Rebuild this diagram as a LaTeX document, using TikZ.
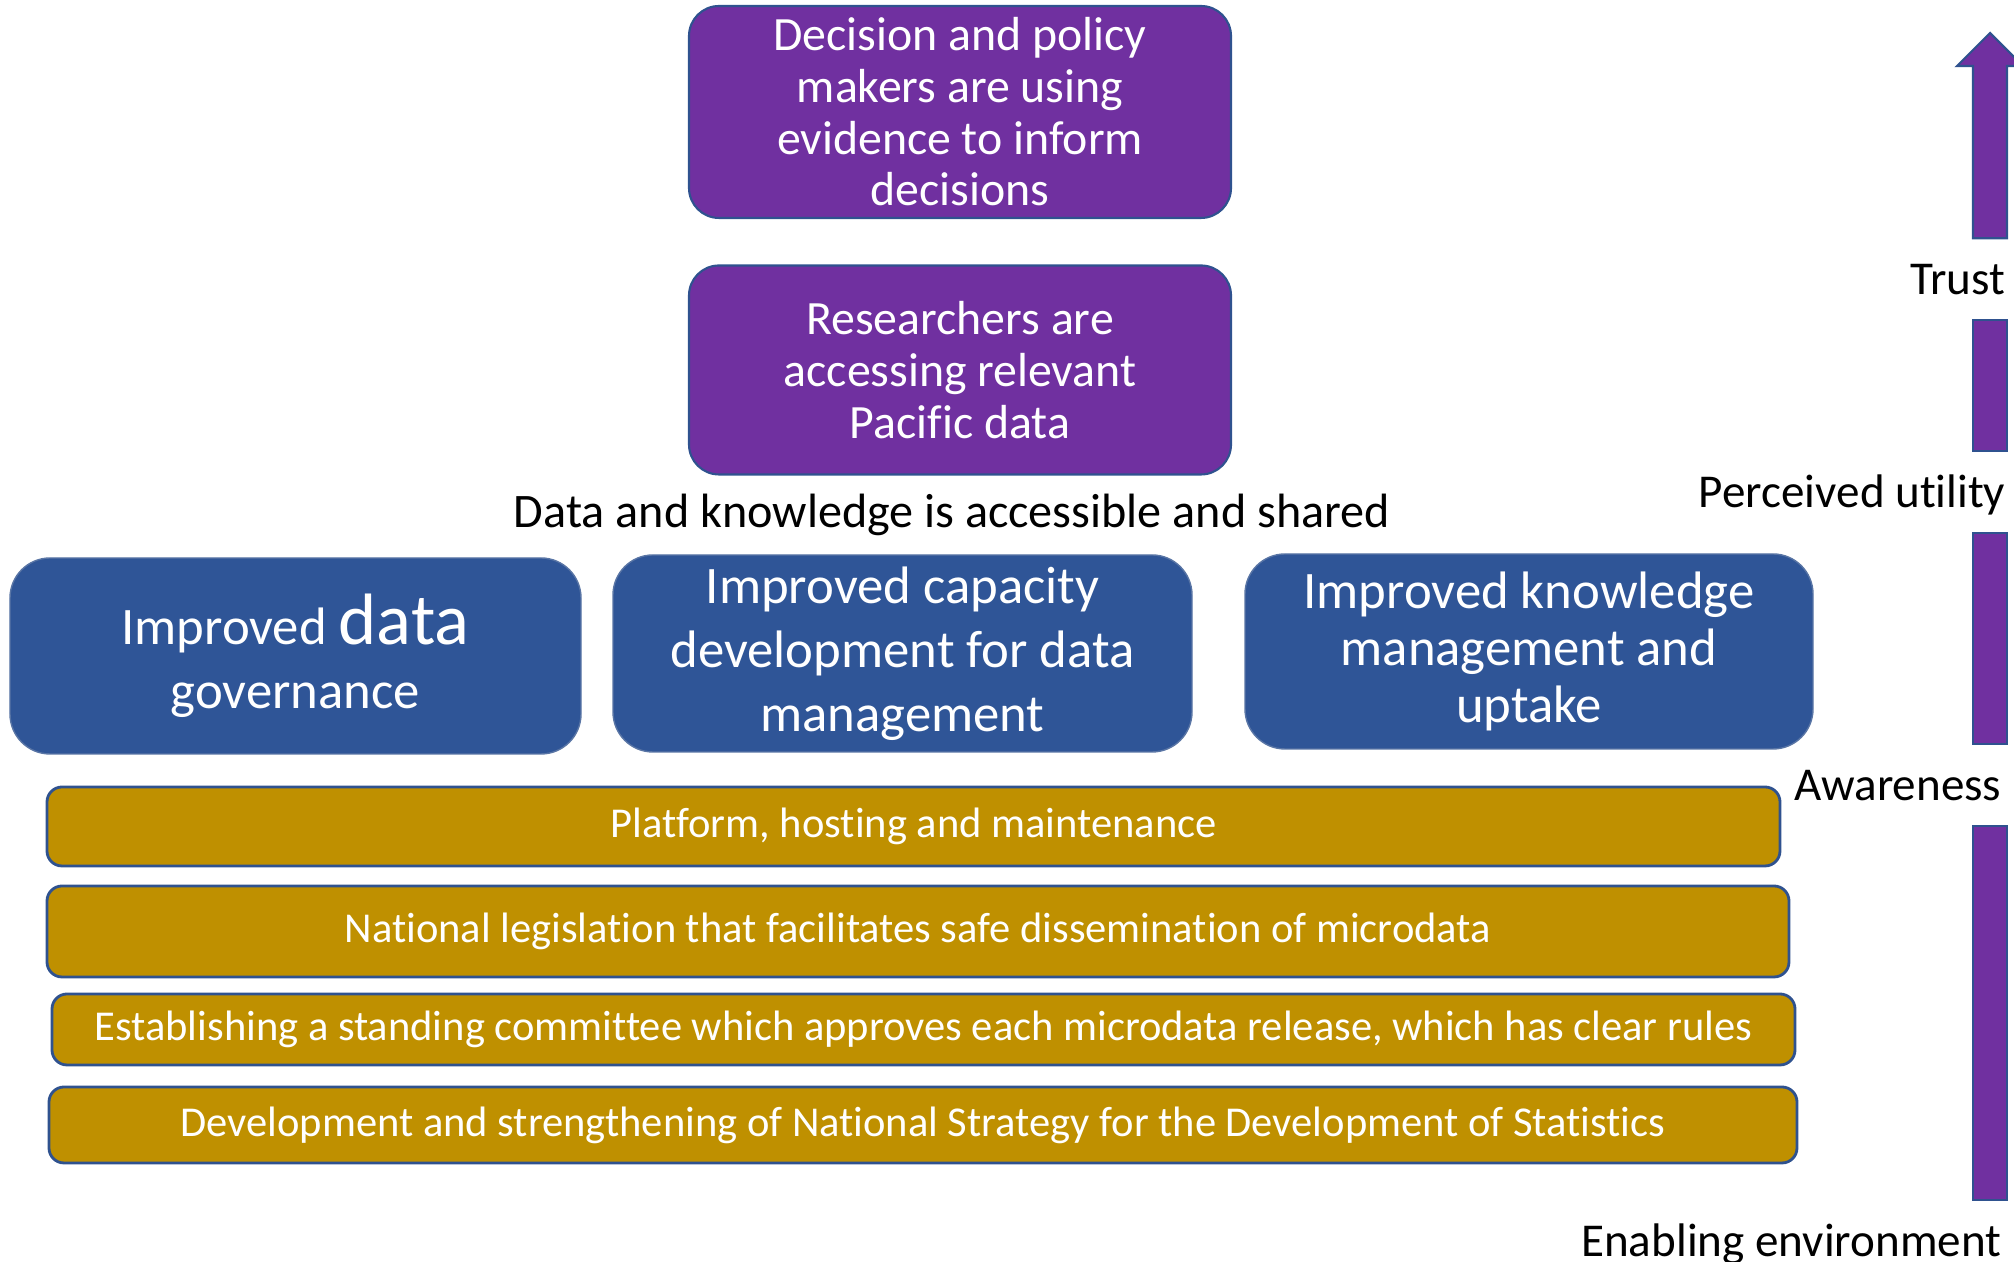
\documentclass[tikz,border=0pt]{standalone}
\usepackage{fontspec}
\setmainfont{Carlito}[Ligatures={NoCommon,NoRequired,NoContextual}]
\usetikzlibrary{positioning}
\definecolor{goalpurple}{HTML}{7030A0}
\definecolor{outblue}{HTML}{2F5597}
\definecolor{basegold}{HTML}{BF9000}
\definecolor{edgeblue}{HTML}{2F528F}

\begin{document}
\begin{tikzpicture}[
		goal/.style={rectangle, rounded corners=0.3cm, draw=edgeblue, line width=0.6pt, fill=goalpurple, text=white, align=center, minimum width=5.42cm, minimum height=2.1cm, font=\fontsize{13.6}{14.7}\selectfont},
		outcome/.style={rectangle, rounded corners=0.4cm, draw=edgeblue!80, line width=0.4pt, fill=outblue, text=white, align=center, minimum height=1.95cm, font=\fontsize{15}{18.2}\selectfont},
		enabler/.style={rectangle, rounded corners=0.15cm, draw=edgeblue, line width=0.8pt, fill=basegold, text=white, align=center, font=\fontsize{12.1}{14}\selectfont},
		stage/.style={anchor=east, inner sep=0pt, minimum height=0.8cm, text height=0.37cm, text depth=0.06cm, font=\fontsize{13.4}{16}\selectfont},
		bar/.style={fill=goalpurple, draw=edgeblue, line width=0.6pt}
	]
		\useasboundingbox (0,0) rectangle (20.14,12.62);
		
		% Goal nodes
		\node[goal] (decide) at (9.60,11.50) {Decision and policy\\makers are using\\evidence to inform\\decisions};
		\node[goal, minimum height=2.09cm] (access) at (9.60,8.92) {Researchers are\\accessing relevant\\Pacific data};
		
		\node[font=\fontsize{13.7}{16}\selectfont] (shared) at (9.52,7.47) {Data and knowledge is accessible and shared};
		
		% Outcome nodes
		\node[outcome, minimum width=5.71cm, minimum height=1.96cm] (govern) at (2.955,6.06) {Improved {\fontsize{20.7}{22}\selectfont data}\\governance};
		\node[outcome, minimum width=5.79cm] (capac) at (9.025,6.085) {Improved capacity\\development for data\\management};
		\node[outcome, minimum width=5.68cm, font=\fontsize{15}{16.2}\selectfont] (knowl) at (15.29,6.105) {Improved knowledge\\management and\\uptake};
		
		% Enabling environment
		\node[enabler, minimum width=17.33cm, minimum height=0.79cm] (platform) at (9.135,4.355) {Platform, hosting and maintenance};
		\node[enabler, minimum width=17.42cm, minimum height=0.91cm] (legis) at (9.18,3.305) {National legislation that facilitates safe dissemination of microdata};
		\node[enabler, minimum width=17.43cm, minimum height=0.71cm] (commit) at (9.235,2.325) {Establishing a standing committee which approves each microdata release, which has clear rules};
		\node[enabler, minimum width=17.48cm, minimum height=0.76cm] (nsds) at (9.23,1.37) {Development and strengthening of National Strategy for the Development of Statistics};
		
		% Stage labels
		\node[stage] (trust) at (20.06,9.83) {Trust};
		\node[stage] (utility) at (20.06,7.70) {Perceived utility};
		\node[stage] (aware) at (20.02,4.77) {Awareness};
		\node[stage] (enable) at (20.02,0.21) {Enabling environment};
		
		% Progress bar
		\coordinate (barL) at (19.73,0);
		\coordinate (barR) at (20.07,0);
		\coordinate (neck) at (19.90,11.96);
		\coordinate (tip) at (19.90,12.29);
		
		\filldraw[bar] (barL |- trust.north) -- (barL |- neck) -- ++(-0.16,0) -- (tip) -- ++(0.33,-0.33) -- ++(-0.16,0) -- (barR |- trust.north) -- cycle;
		\filldraw[bar] (barL |- trust.south) rectangle (barR |- utility.north);
		\filldraw[bar] (barL |- utility.south) rectangle (barR |- aware.north);
		\filldraw[bar] (barL |- aware.south) rectangle (barR |- enable.north);
	\end{tikzpicture}
\end{document}
